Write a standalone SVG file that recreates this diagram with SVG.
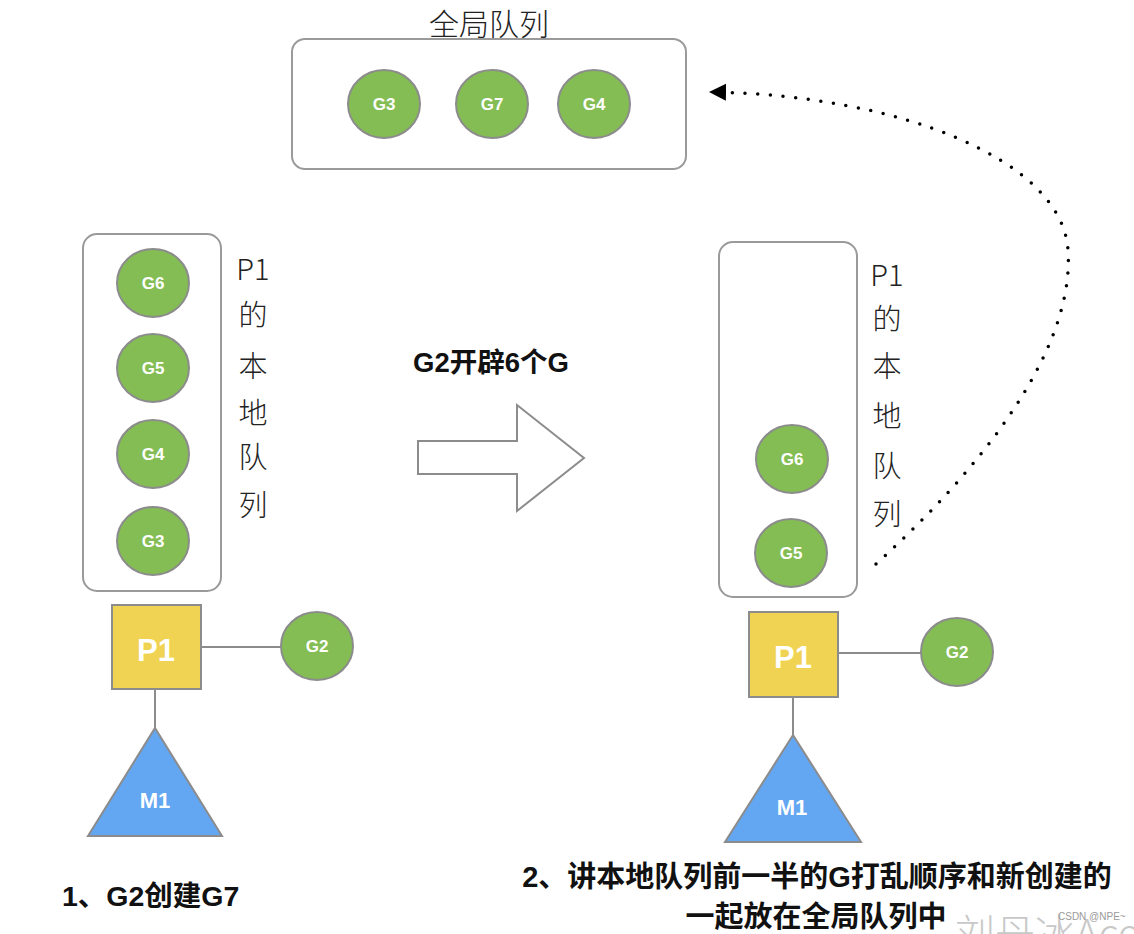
<svg xmlns="http://www.w3.org/2000/svg" width="1134" height="934" viewBox="0 0 1134 934">
<defs>
<style>
.box{fill:#fff;stroke:#9a9a9a;stroke-width:2}
.g{fill:#83bd53;stroke:#8c8c8c;stroke-width:2}
.gt{fill:#fff;font-family:"Liberation Sans",Arial,sans-serif;font-weight:bold;font-size:17px;text-anchor:middle}
.p{fill:#f0d352;stroke:#8c8c8c;stroke-width:2}
.pt{fill:#fff;font-family:"Liberation Sans",Arial,sans-serif;font-weight:bold;font-size:31px;text-anchor:middle}
.m{fill:#63a6f1;stroke:#8c8c8c;stroke-width:2}
.mt{fill:#fff;font-family:"Liberation Sans",Arial,sans-serif;font-weight:bold;font-size:22px;text-anchor:middle}
.ln{stroke:#8c8c8c;stroke-width:2;fill:none}
.thin{fill:#222;font-family:"Noto Sans CJK SC","Liberation Sans",sans-serif;font-weight:300;font-size:29px;text-anchor:middle}
.bold{fill:#111;font-family:"Liberation Sans","Noto Sans CJK SC",sans-serif;font-weight:bold}
</style>
<marker id="ah" markerWidth="18" markerHeight="18" refX="16" refY="9" orient="auto" markerUnits="userSpaceOnUse" viewBox="0 0 18 18">
<path d="M0,0.5 L17,9 L0,17.5 Z" fill="#000"/>
</marker>
</defs>

<g id="global-queue">
<text class="thin" x="489" y="35" style="font-size:30px">全局队列</text>
<rect class="box" x="292" y="39" width="394" height="130" rx="13"/>
<ellipse class="g" cx="384" cy="104" rx="36" ry="34"/><text class="gt" x="384" y="110">G3</text>
<ellipse class="g" cx="492" cy="104" rx="36" ry="34"/><text class="gt" x="492" y="110">G7</text>
<ellipse class="g" cx="594" cy="104" rx="36" ry="34"/><text class="gt" x="594" y="110">G4</text>
</g>

<g id="left-local-queue">
<rect class="box" x="83" y="234" width="138" height="357" rx="14"/>
<ellipse class="g" cx="153" cy="283" rx="36" ry="34"/><text class="gt" x="153" y="289">G6</text>
<ellipse class="g" cx="153" cy="368" rx="36" ry="34"/><text class="gt" x="153" y="374">G5</text>
<ellipse class="g" cx="153" cy="454" rx="36" ry="34"/><text class="gt" x="153" y="460">G4</text>
<ellipse class="g" cx="153" cy="541" rx="36" ry="34"/><text class="gt" x="153" y="547">G3</text>
<text class="thin" x="253" y="280">P1</text>
<text class="thin" x="253" y="326">的</text>
<text class="thin" x="253" y="377">本</text>
<text class="thin" x="253" y="424">地</text>
<text class="thin" x="253" y="468">队</text>
<text class="thin" x="253" y="516">列</text>
</g>

<g id="right-local-queue">
<rect class="box" x="719" y="242" width="138" height="355" rx="14"/>
<ellipse class="g" cx="792" cy="459" rx="36" ry="34"/><text class="gt" x="792" y="465">G6</text>
<ellipse class="g" cx="791" cy="553" rx="36" ry="34"/><text class="gt" x="791" y="559">G5</text>
<text class="thin" x="887" y="286">P1</text>
<text class="thin" x="887" y="330">的</text>
<text class="thin" x="887" y="377">本</text>
<text class="thin" x="887" y="427">地</text>
<text class="thin" x="887" y="477">队</text>
<text class="thin" x="887" y="525">列</text>
</g>

<g id="connectors">
<line class="ln" x1="201" y1="647" x2="281" y2="647"/>
<line class="ln" x1="155" y1="690" x2="155" y2="728"/>
<line class="ln" x1="838" y1="653" x2="921" y2="653"/>
<line class="ln" x1="793" y1="698" x2="793" y2="735"/>
<path d="M876,564 C980,470 1075,350 1068,250 C1062,160 900,95 710,92" fill="none" stroke="#000" stroke-width="3.5" stroke-linecap="round" stroke-dasharray="0 12.7" marker-end="url(#ah)"/>
</g>

<g id="left-p1">
<rect class="p" x="112" y="605" width="89" height="84"/>
<text class="pt" x="156" y="661">P1</text>
</g>
<g id="left-g2">
<ellipse class="g" cx="317" cy="646" rx="36" ry="34"/><text class="gt" x="317" y="652">G2</text>
</g>
<g id="left-m1">
<polygon class="m" points="155,728 222,836 88,836"/>
<text class="mt" x="155" y="808">M1</text>
</g>

<g id="right-p1">
<rect class="p" x="749" y="612" width="89" height="85"/>
<text class="pt" x="793" y="668">P1</text>
</g>
<g id="right-g2">
<ellipse class="g" cx="957" cy="652" rx="36" ry="34"/><text class="gt" x="957" y="658">G2</text>
</g>
<g id="right-m1">
<polygon class="m" points="793,735 861,842 725,842"/>
<text class="mt" x="792" y="815">M1</text>
</g>

<g id="transition">
<text class="bold" x="491" y="372" text-anchor="middle" style="font-size:27.5px">G2开辟6个G</text>
<polygon points="418,441 517,441 517,405 584,458 517,511 517,474 418,474" fill="#fff" stroke="#8c8c8c" stroke-width="2"/>
</g>

<g id="captions">
<text class="bold" x="62" y="906" style="font-size:28.5px">1、G2创建G7</text>
<text class="bold" x="817" y="887" text-anchor="middle" style="font-size:29px">2、讲本地队列前一半的G打乱顺序和新创建的</text>
<text class="bold" x="816" y="927" text-anchor="middle" style="font-size:29px">一起放在全局队列中</text>
</g>

<g id="watermark">
<text x="955" y="948" font-family="Noto Sans CJK SC,Liberation Sans,sans-serif" font-weight="300" font-size="40" fill="#c8c8c8">刘丹冰Aceld</text>
<text x="1058" y="920" font-family="Liberation Sans,sans-serif" font-size="10" fill="#9a9a9a">CSDN @NPE~</text>
</g>
</svg>
